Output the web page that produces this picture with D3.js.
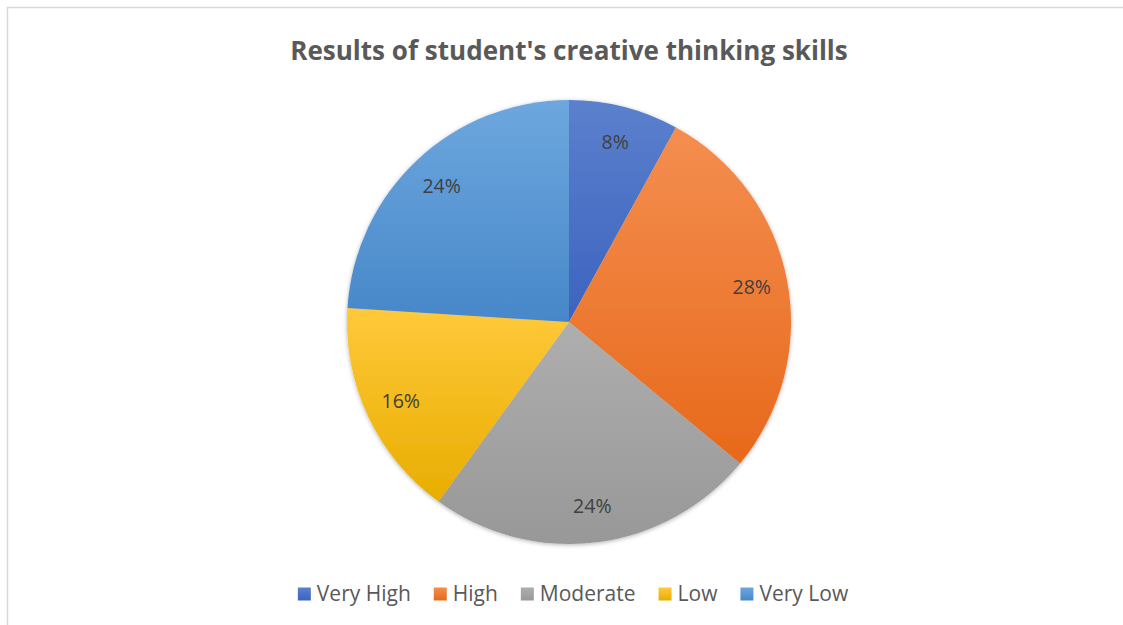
<!DOCTYPE html>
<html>
<head>
<meta charset="utf-8">
<script src="https://cdn.jsdelivr.net/npm/d3@7"></script>
<style>
  body { margin: 0; background: #fff; }
  svg text { font-family: "Open Sans", "Liberation Sans", sans-serif; }
</style>
</head>
<body>
<div id="pie_chart"></div>
<script>
// chart values
const categories = ["Very High", "High", "Moderate", "Low", "Very Low"];
const percents = [8, 28, 24, 16, 24];
const labels = ["8%", "28%", "24%", "16%", "24%"];
const chartTitle = "Results of student's creative thinking skills";

// fill colours (light top -> dark bottom, like the office gradient style)
const topColors = ["#5b80cd", "#f48e50", "#aeaeae", "#ffc93a", "#6da7de"];
const bottomColors = ["#3c63bf", "#e7691b", "#989898", "#e8ad00", "#4787c9"];

const PieChart = {
	initialize: function() {
		var width = 1123,
		    height = 625;

		const cx = 569, cy = 322, radius = 222;

		let svg = d3.select("#pie_chart")
			.append("svg")
			.attr("width", width)
			.attr("height", height);

		const defs = svg.append("defs");

		// one vertical gradient per slice
		categories.forEach(function(c, i) {
			const g = defs.append("linearGradient")
				.attr("id", "grad" + i)
				.attr("x1", 0).attr("y1", 0)
				.attr("x2", 0).attr("y2", 1);
			g.append("stop").attr("offset", "0%").attr("stop-color", topColors[i]);
			g.append("stop").attr("offset", "100%").attr("stop-color", bottomColors[i]);
		});

		const shadow = defs.append("filter")
			.attr("id", "shadow")
			.attr("x", "-10%").attr("y", "-10%")
			.attr("width", "120%").attr("height", "120%");
		shadow.append("feDropShadow")
			.attr("dx", 0).attr("dy", 1)
			.attr("stdDeviation", 2)
			.attr("flood-color", "#000")
			.attr("flood-opacity", 0.3);

		// chart area border (runs off the right and bottom of the picture)
		svg.append("rect")
			.attr("x", 7.5)
			.attr("y", 7.5)
			.attr("width", 1300)
			.attr("height", 800)
			.attr("fill", "none")
			.attr("stroke", "#d9d9d9")
			.attr("stroke-width", 1.5);

		// title
		const title = svg.append("text")
			.attr("x", cx)
			.attr("y", 60)
			.attr("text-anchor", "middle")
			.style("font-size", "26px")
			.style("font-weight", "bold")
			.style("fill", "#595959")
			.text(chartTitle);
		fitText(title, 558);

		const pie = d3.pie().sort(null).value(function(d) { return d; });
		const arcs = pie(percents);

		const arc = d3.arc().innerRadius(0).outerRadius(radius);
		const labelArc = d3.arc().innerRadius(186).outerRadius(186);

		const g = svg.append("g")
			.attr("transform", `translate(${cx}, ${cy})`);

		g.append("g")
			.attr("filter", "url(#shadow)")
			.selectAll("path")
			.data(arcs)
			.enter().append("path")
			.attr("d", arc)
			.attr("fill", function(d, i) { return "url(#grad" + i + ")"; });

		g.selectAll(".label")
			.data(arcs)
			.enter().append("text")
			.attr("class", "label")
			.attr("transform", function(d) { return `translate(${labelArc.centroid(d)})`; })
			.attr("text-anchor", "middle")
			.attr("dy", "0.35em")
			.style("font-size", "19.5px")
			.style("fill", "#404040")
			.text(function(d, i) { return labels[i]; });

		// legend
		const legend = svg.append("g").attr("id", "legend");
		const sq = 13, sqGap = 6, itemGap = 23;

		const items = legend.selectAll("g.legend_entry")
			.data(categories)
			.enter().append("g")
			.attr("class", "legend_entry");

		items.append("rect")
			.attr("width", sq)
			.attr("height", sq)
			.attr("y", -sq / 2)
			.attr("fill", function(d, i) { return "url(#grad" + i + ")"; });

		const texts = items.append("text")
			.attr("x", sq + sqGap)
			.attr("dy", "0.35em")
			.style("font-size", "21px")
			.style("fill", "#595959")
			.text(function(d) { return d; });

		// size legend text so "Very High" matches the reference width
		const first = texts.filter(function(d, i) { return i === 0; });
		const fs = parseFloat(first.style("font-size")) * 94 / first.node().getComputedTextLength();
		texts.style("font-size", fs + "px");

		let offsets = [], total = 0;
		texts.each(function() {
			offsets.push(total);
			total += sq + sqGap + this.getComputedTextLength() + itemGap;
		});
		total -= itemGap;
		const startX = 573 - total / 2;
		items.attr("transform", function(d, i) { return `translate(${startX + offsets[i]}, 594)`; });

		function fitText(sel, target) {
			const w = sel.node().getComputedTextLength();
			const size = parseFloat(sel.style("font-size"));
			sel.style("font-size", (size * target / w) + "px");
		}
	}
}

PieChart.initialize();
</script>
</body>
</html>
